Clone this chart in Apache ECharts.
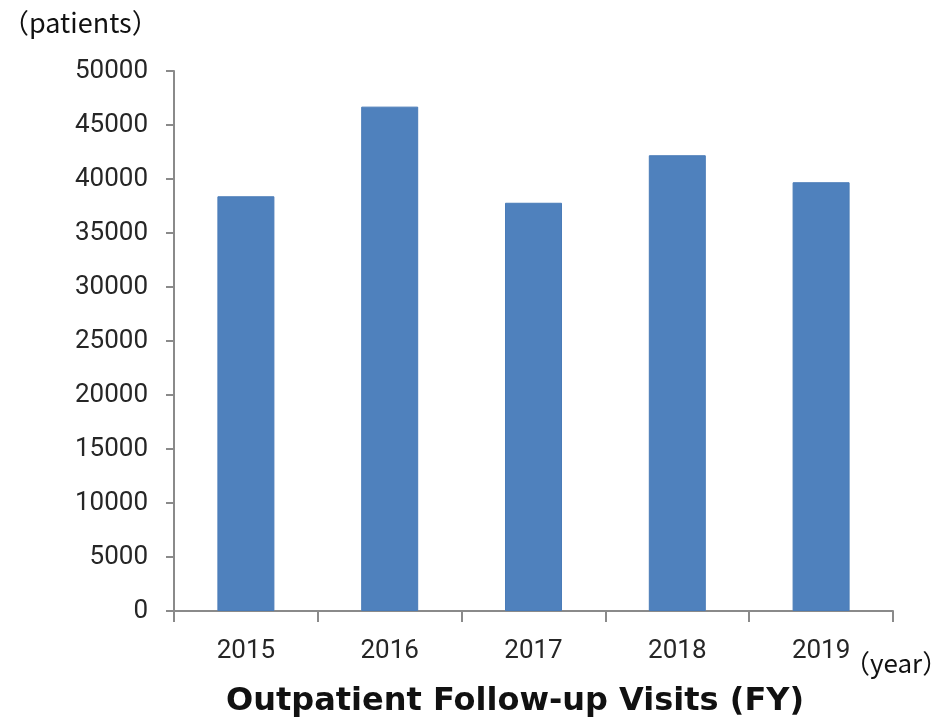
<!DOCTYPE html>
<html>
<head>
<meta charset="utf-8">
<title>Outpatient Follow-up Visits (FY)</title>
<script src="https://cdn.jsdelivr.net/npm/echarts@6/dist/echarts.min.js"></script>
<style>
  html, body { margin: 0; padding: 0; background: #fff; }
  #chart { width: 945px; height: 718px; }
</style>
</head>
<body>
<div id="chart"></div>
<script>
// fiscal years and visit counts
const years = ['2015', '2016', '2017', '2018', '2019']
const visits = [38400, 46700, 37800, 42200, 39700]

const axisFont = "Roboto, 'Liberation Sans', sans-serif"
const jpFont = "'Noto Sans CJK JP', 'Noto Sans', sans-serif"
const axisGray = '#8a8a8a'

const chart = echarts.init(document.getElementById('chart'))

chart.setOption({
  animation: false,
  title: [
    {
      text: '（patients）',
      left: -3,
      top: 4,
      textStyle: { fontFamily: jpFont, fontSize: 27, fontWeight: 'normal', color: '#111' }
    },
    {
      text: '（year）',
      left: 839,
      top: 645,
      textStyle: { fontFamily: jpFont, fontSize: 26, fontWeight: 'normal', color: '#111' }
    },
    {
      text: 'Outpatient Follow-up Visits (FY)',
      left: 221,
      top: 681,
      textStyle: { fontFamily: "'DejaVu Sans', sans-serif", fontSize: 32, fontWeight: 'bold', color: '#111' }
    }
  ],
  grid: {
    left: 174,
    right: 52,
    top: 71,
    bottom: 107
  },
  xAxis: {
    type: 'category',
    data: years,
    axisLine: { lineStyle: { color: axisGray, width: 2 } },
    axisTick: { show: true, length: 11, lineStyle: { color: axisGray, width: 2 } },
    axisLabel: {
      margin: 27,
      fontFamily: axisFont,
      fontSize: 26,
      color: '#262626'
    }
  },
  yAxis: {
    type: 'value',
    min: 0,
    max: 50000,
    interval: 5000,
    splitLine: { show: false },
    axisLine: { show: true, lineStyle: { color: axisGray, width: 2 } },
    axisTick: { show: true, length: 8, lineStyle: { color: axisGray, width: 2 } },
    axisLabel: {
      margin: 26,
      fontFamily: axisFont,
      fontSize: 26,
      color: '#262626',
      formatter: (v) => String(v)
    }
  },
  series: [
    {
      type: 'bar',
      data: visits,
      barWidth: 57,
      itemStyle: {
        color: '#4f81bd',
        borderColor: '#4a7cb8',
        borderWidth: 1
      }
    }
  ]
})
</script>
</body>
</html>
